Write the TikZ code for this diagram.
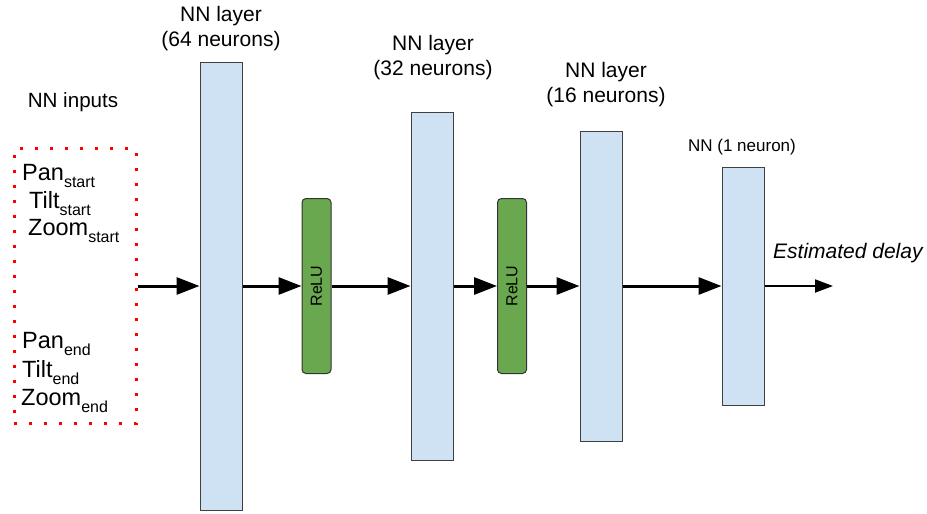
\documentclass[tikz,border=0pt]{standalone}
\usepackage{fontspec}
\setmainfont{Liberation Sans}
\usetikzlibrary{arrows.meta}

\definecolor{layerblue}{HTML}{CFE2F3}
\definecolor{relugreen}{HTML}{6AA84F}
\definecolor{boxred}{HTML}{FF0000}

\newcommand{\lowidx}[1]{\raisebox{-7pt}{\fontsize{16}{16}\selectfont #1}}

\tikzset{
  layer/.style={draw=black!75,line width=1pt,fill=layerblue,minimum width=42pt,inner sep=0pt},
  relu/.style={draw=black!80,line width=1pt,fill=relugreen,rounded corners=4pt,
    minimum width=29pt,minimum height=175pt,inner sep=0pt},
  inbox/.style={draw=boxred,line width=3pt,dash pattern=on 3pt off 12pt,
    minimum width=122pt,minimum height=275pt,inner sep=0pt},
  flow/.style={line width=3pt,-{Triangle[length=23pt,width=17pt]}},
  outflow/.style={line width=2pt,-{Triangle[length=18pt,width=13pt]}},
  lbl/.style={font=\fontsize{21}{25}\selectfont,align=center,inner sep=0pt},
  var/.style={font=\fontsize{23.5}{26}\selectfont,anchor=base west,inner sep=0pt},
}

\begin{document}
\begin{tikzpicture}[x=1pt,y=-1pt]
  \useasboundingbox (0,0) rectangle (927,514);

  %% inputs
  \node[lbl,font=\fontsize{20.6}{25}\selectfont] (intitle) at (73,102) {NN inputs};
  \node[inbox] (inputs) at (75,286) {};
  \node[var] (panS)  at (22,180) {Pan\lowidx{start}};
  \node[var] (tiltS) at (29,208) {Tilt\lowidx{start}};
  \node[var] (zoomS) at (28,235) {Zoom\lowidx{start}};
  \node[var] (panE)  at (22,348) {Pan\lowidx{end}};
  \node[var] (tiltE) at (22,377) {Tilt\lowidx{end}};
  \node[var] (zoomE) at (21,405) {Zoom\lowidx{end}};

  %% layers
  \node[layer,minimum height=448pt] (l1) at (221,286) {};
  \node[layer,minimum height=348pt] (l2) at (432,286) {};
  \node[layer,minimum height=310pt] (l3) at (601,286) {};
  \node[layer,minimum height=238pt] (l4) at (743,286) {};

  \node[lbl] (t1) at (221,29) {NN layer\\(64 neurons)};
  \node[lbl] (t2) at (433,58) {NN layer\\(32 neurons)};
  \node[lbl] (t3) at (606,85) {NN layer\\(16 neurons)};
  \node[lbl,font=\fontsize{17}{20}\selectfont] (t4) at (742,147) {NN (1 neuron)};

  %% activations
  \node[relu,label={[rotate=90,font=\fontsize{16}{19}\selectfont]center:ReLU}] (r1) at (316.5,286) {};
  \node[relu,label={[rotate=90,font=\fontsize{16}{19}\selectfont]center:ReLU}] (r2) at (512,286) {};

  %% output
  \coordinate (out) at (833,286);
  \node[lbl,anchor=west,font=\fontsize{21}{24}\selectfont\itshape] (delay) at (773,253) {Estimated delay};

  %% connectors
  \draw[flow] (inputs.east) -- (l1.west);
  \draw[flow] (l1.east) -- (r1.west);
  \draw[flow] (r1.east) -- (l2.west);
  \draw[flow] (l2.east) -- (r2.west);
  \draw[flow] (r2.east) -- (l3.west);
  \draw[flow] (l3.east) -- (l4.west);
  \draw[outflow] (l4.east) -- (out);
\end{tikzpicture}
\end{document}
